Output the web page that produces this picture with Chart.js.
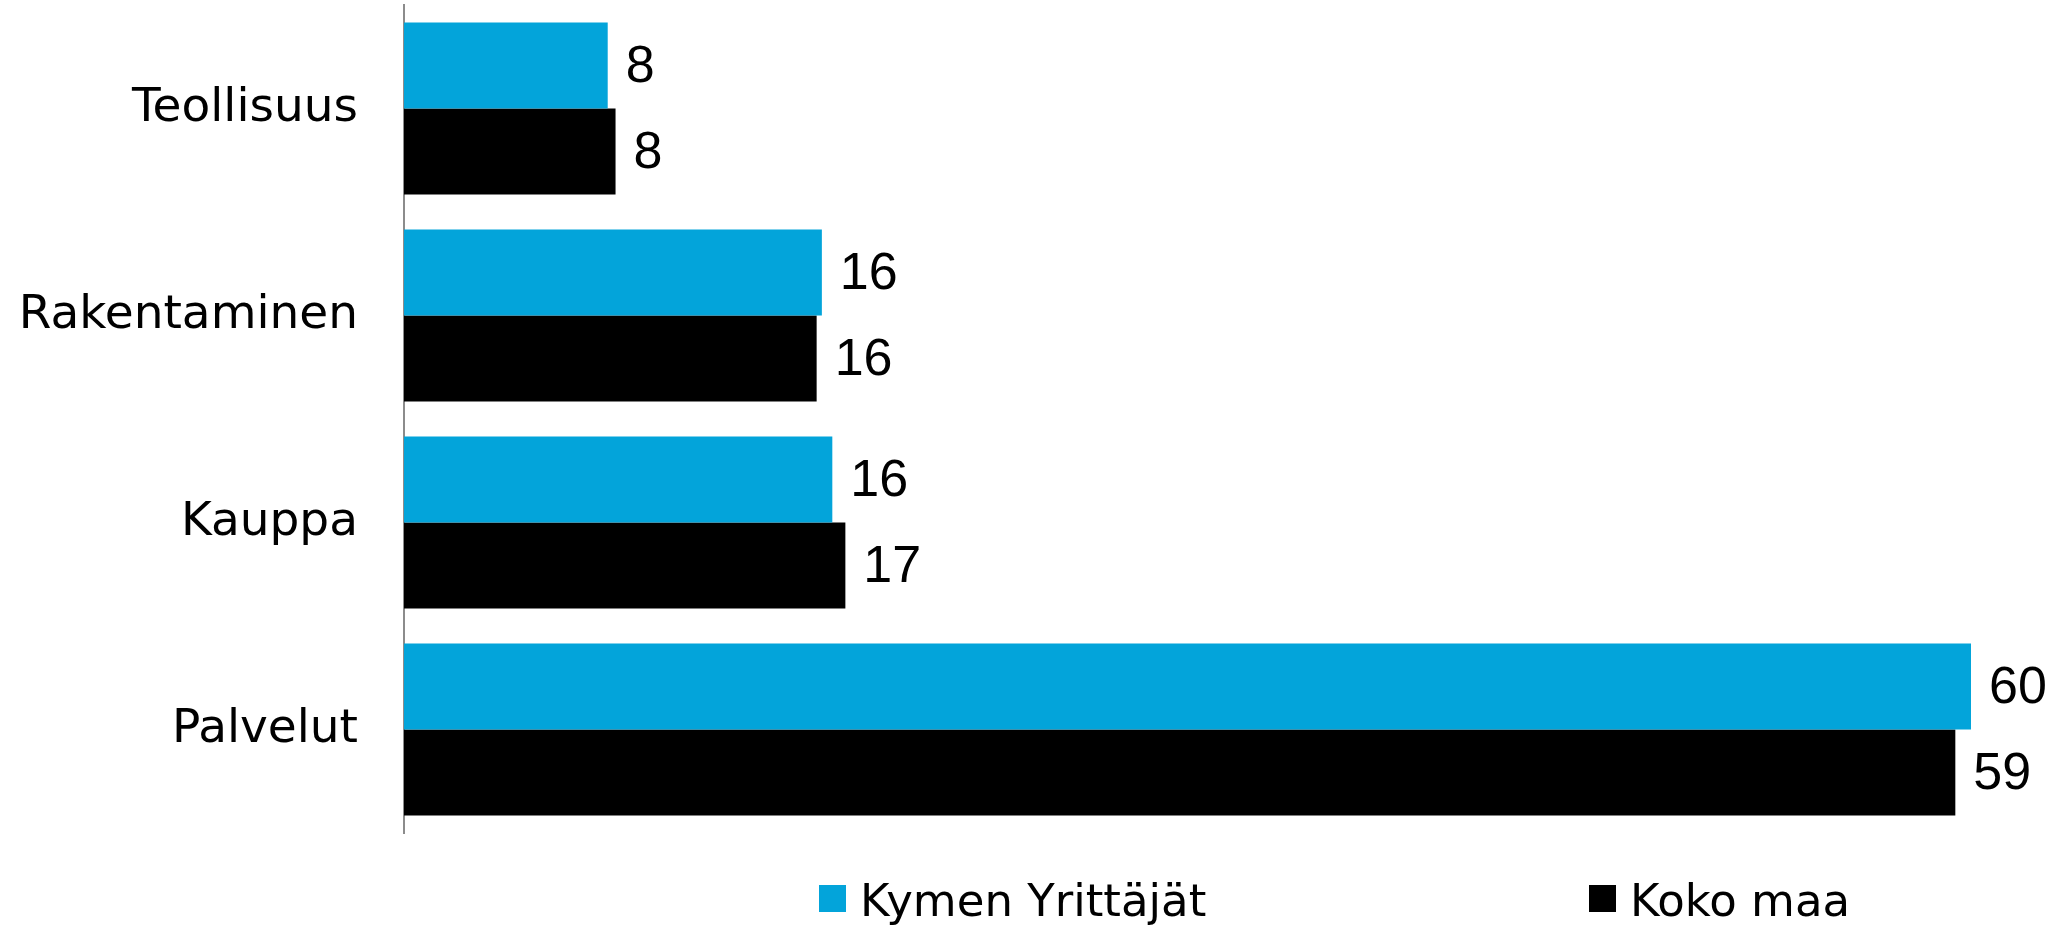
<!DOCTYPE html>
<html>
<head>
<meta charset="utf-8">
<script src="https://cdn.jsdelivr.net/npm/chart.js@4.4.1/dist/chart.umd.min.js"></script>
<style>
  html, body { margin: 0; padding: 0; background: #ffffff; }
  #wrap { position: relative; width: 2054px; height: 925px; }
</style>
</head>
<body>
<div id="wrap"><canvas id="c" width="2054" height="925"></canvas></div>
<script>
const categories = ['Teollisuus', 'Rakentaminen', 'Kauppa', 'Palvelut'];
const seriesNames = ['Kymen Yrittäjät', 'Koko maa'];
const kymenValues = [7.8, 16.0, 16.4, 60.0];
const kokoMaaValues = [8.1, 15.8, 16.9, 59.4];
const xMin = 0;
const xMax = 60;

const BLUE = '#03A4DA';
const BLACK = '#000000';

const valueLabelPlugin = {
  id: 'valueLabels',
  afterDatasetsDraw(chart) {
    const ctx = chart.ctx;
    ctx.save();
    ctx.font = '52px "Liberation Sans", Arial, sans-serif';
    ctx.fillStyle = '#000';
    ctx.textAlign = 'left';
    ctx.textBaseline = 'middle';
    chart.data.datasets.forEach((ds, di) => {
      const meta = chart.getDatasetMeta(di);
      meta.data.forEach((bar, i) => {
        ctx.fillText(String(Math.round(ds.data[i])), bar.x + 18, bar.y + 2);
      });
    });
    ctx.restore();
  }
};

const customLegendPlugin = {
  id: 'customLegend',
  afterDraw(chart, args, opts) {
    const ctx = chart.ctx;
    ctx.save();
    ctx.font = '45px "DejaVu Sans", sans-serif';
    ctx.textAlign = 'left';
    ctx.textBaseline = 'alphabetic';
    chart.data.datasets.forEach((ds, i) => {
      const x = opts.xs[i];
      ctx.fillStyle = ds.backgroundColor;
      ctx.fillRect(x, opts.boxTop, opts.box, opts.box);
      ctx.fillStyle = '#000';
      ctx.fillText(ds.label, x + opts.box + opts.gap, opts.baseline);
    });
    ctx.restore();
  }
};

new Chart(document.getElementById('c'), {
  type: 'bar',
  data: {
    labels: categories,
    datasets: [
      { label: seriesNames[0], data: kymenValues, backgroundColor: BLUE, borderWidth: 0 },
      { label: seriesNames[1], data: kokoMaaValues, backgroundColor: BLACK, borderWidth: 0 }
    ]
  },
  options: {
    indexAxis: 'y',
    responsive: false,
    animation: false,
    devicePixelRatio: 1,
    categoryPercentage: 0.831,
    barPercentage: 1.0,
    layout: { padding: { top: 5, right: 83, bottom: 92, left: 0 } },
    plugins: {
      legend: { display: false },
      tooltip: { enabled: false },
      customLegend: { xs: [819, 1589], boxTop: 885, box: 27, gap: 14, baseline: 916 }
    },
    scales: {
      x: {
        display: false,
        min: xMin,
        max: xMax
      },
      y: {
        afterFit(scale) {
          scale.width = 404;
          scale.paddingTop = 0;
          scale.paddingBottom = 0;
        },
        grid: { display: false },
        border: { display: true, color: '#8c8c8c', width: 2 },
        ticks: {
          color: '#000',
          padding: 38,
          font: { family: '"DejaVu Sans", sans-serif', size: 47 }
        }
      }
    }
  },
  plugins: [valueLabelPlugin, customLegendPlugin]
});
</script>
</body>
</html>
